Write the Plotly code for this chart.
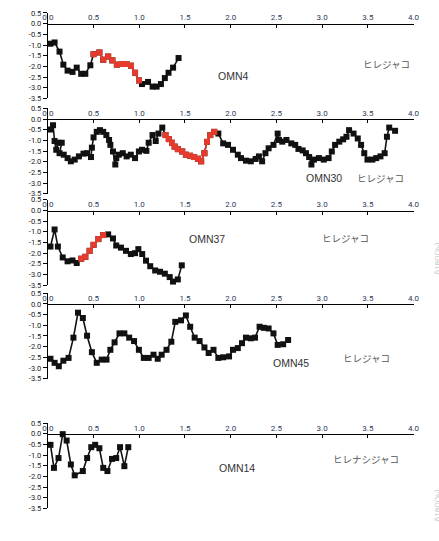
import plotly.graph_objects as go

W, H = 439, 541

# ---- data (x in mm-like distance units, y = isotope value) ----
omn4_x = [0.029, 0.074, 0.128, 0.170, 0.216, 0.270, 0.316, 0.365, 0.410, 0.465,
          0.500, 0.564, 0.606, 0.660, 0.706, 0.755, 0.810, 0.860, 0.910, 0.954, 0.997,
          1.030, 1.096, 1.146, 1.190, 1.237, 1.280, 1.320, 1.370, 1.430]
omn4_y = [-0.94, -0.88, -1.31, -1.92, -2.20, -2.26, -2.06, -2.35, -2.35, -1.95,
          -1.43, -1.35, -1.69, -1.54, -1.72, -1.92, -1.89, -1.89, -1.97, -2.30, -2.66,
          -2.83, -2.73, -2.95, -2.95, -2.83, -2.55, -2.30, -2.06, -1.61]
omn4_red = (10, 21)

omn30_x = [0.029, 0.057, 0.074, 0.092, 0.117, 0.152, 0.128, 0.174, 0.216, 0.252, 0.294, 0.340,
           0.390, 0.430, 0.472, 0.482, 0.500, 0.535, 0.570, 0.606, 0.640, 0.670, 0.684, 0.713,
           0.738, 0.749, 0.777, 0.820, 0.862, 0.908, 0.954, 0.996, 1.030, 1.078, 1.103, 1.145,
           1.180, 1.210, 1.252,
           1.287, 1.323, 1.358, 1.387, 1.422, 1.470, 1.510, 1.556, 1.600, 1.642, 1.677, 1.713,
           1.741, 1.777, 1.820,
           1.865, 1.918, 1.971, 2.025, 2.078, 2.113, 2.167, 2.220, 2.273, 2.309, 2.344, 2.380,
           2.415, 2.468, 2.514, 2.528, 2.564, 2.610, 2.663, 2.706, 2.741, 2.787, 2.823, 2.858,
           2.883, 2.911, 2.965, 3.018, 3.071, 3.106, 3.142, 3.188, 3.230, 3.266, 3.295, 3.344,
           3.390, 3.426, 3.461, 3.496, 3.550, 3.592, 3.638, 3.684, 3.709, 3.734, 3.798]
omn30_y = [-0.49, -0.29, -1.03, -1.44, -1.11, -1.11, -1.60, -1.67, -1.83, -1.98, -1.90, -1.75,
           -1.62, -1.60, -1.78, -1.34, -0.86, -0.60, -0.52, -0.60, -0.75, -0.98, -1.21, -1.52,
           -2.13, -1.83, -1.67, -1.60, -1.75, -1.67, -1.83, -1.52, -1.44, -1.49, -1.11, -0.75,
           -1.03, -0.68, -0.40,
           -0.75, -0.94, -1.11, -1.29, -1.41, -1.52, -1.67, -1.72, -1.78, -1.86, -1.98, -1.60,
           -1.07, -0.75, -0.60,
           -0.68, -1.14, -1.21, -1.44, -1.67, -1.83, -1.95, -1.98, -1.87, -1.75, -1.98, -1.60,
           -1.37, -1.21, -0.68, -0.98, -1.06, -0.98, -1.14, -1.21, -1.40, -1.47, -1.60, -1.78,
           -2.13, -1.90, -1.83, -1.90, -1.83, -1.52, -1.21, -1.06, -0.95, -0.83, -0.52, -0.68,
           -0.91, -1.21, -1.60, -1.90, -1.90, -1.83, -1.75, -1.60, -0.83, -0.40, -0.55]
omn30_red = (39, 54)

omn37_x = [0.029, 0.074, 0.110, 0.163, 0.216, 0.270, 0.316,
           0.365, 0.410, 0.457, 0.500, 0.553, 0.606,
           0.660, 0.713, 0.748, 0.800, 0.855, 0.908, 0.954, 0.990, 1.032, 1.074, 1.120,
           1.174, 1.227, 1.280, 1.333, 1.369, 1.422, 1.465]
omn37_y = [-1.69, -0.89, -1.69, -2.20, -2.38, -2.34, -2.46,
           -2.26, -2.17, -1.89, -1.61, -1.34, -1.15,
           -1.12, -1.31, -1.64, -1.74, -1.89, -2.04, -2.00, -1.81, -2.04, -2.35, -2.61,
           -2.81, -2.87, -2.96, -3.12, -3.33, -3.23, -2.57]
omn37_red = (7, 13)

omn45_x = [0.029, 0.074, 0.120, 0.170, 0.227, 0.280, 0.330, 0.383, 0.429, 0.482, 0.535,
           0.589, 0.642, 0.684, 0.730, 0.784, 0.837, 0.890, 0.943, 0.996, 1.050, 1.103,
           1.156, 1.202, 1.245, 1.298, 1.351, 1.394, 1.457, 1.510, 1.557, 1.606, 1.660,
           1.713, 1.759, 1.812, 1.865, 1.918, 1.982, 2.025, 2.078, 2.124, 2.167, 2.220,
           2.266, 2.316, 2.362, 2.415, 2.468, 2.514, 2.574, 2.628]
omn45_y = [-2.57, -2.76, -2.92, -2.66, -2.53, -1.58, -0.41, -0.66, -1.49, -2.26, -2.76,
           -2.61, -2.61, -2.15, -1.80, -1.38, -1.38, -1.58, -1.74, -2.15, -2.53, -2.53,
           -2.38, -2.57, -2.38, -2.15, -1.77, -0.84, -0.77, -0.54, -1.07, -1.58, -1.74,
           -2.04, -2.30, -2.15, -2.53, -2.50, -2.46, -2.15, -2.07, -1.84, -1.58, -1.61,
           -1.58, -1.07, -1.12, -1.15, -1.38, -1.92, -1.89, -1.69]

omn14_x = [0.029, 0.067, 0.117, 0.163, 0.206, 0.252, 0.294, 0.383, 0.430, 0.475,
           0.518, 0.564, 0.606, 0.652, 0.702, 0.748, 0.790, 0.837, 0.880]
omn14_y = [-0.52, -1.60, -1.14, -0.02, -0.32, -1.44, -1.95, -1.75, -1.14, -0.63,
           -0.52, -0.68, -1.60, -1.75, -1.18, -1.14, -0.63, -1.52, -0.63]

sample_names = ["OMN4", "OMN30", "OMN37", "OMN45", "OMN14"]
species_names = ["ヒレジャコ", "ヒレジャコ", "ヒレジャコ", "ヒレジャコ", "ヒレナシジャコ"]

x_tick_vals = [0.0, 0.5, 1.0, 1.5, 2.0, 2.5, 3.0, 3.5, 4.0]
x_tick_text = ["0.0", "0.5", "1.0", "1.5", "2.0", "2.5", "3.0", "3.5", "4.0"]
y_tick_vals = [0.5, 0.0, -0.5, -1.0, -1.5, -2.0, -2.5, -3.0, -3.5]
y_tick_text = ["0.5", "0.0", "-0.5", "-1.0", "-1.5", "-2.0", "-2.5", "-3.0", "-3.5"]

# ---- layout geometry (pixels) ----
X0, X4 = 43, 419            # pixel of x=0 and x=4
PANEL_ZERO = [20, 117, 210, 305, 437]   # pixel row of y=0 for each panel
PX_PER_UNIT_Y = 21.7

label_pos = [((233, 73), (391, 61)),
             ((326.5, 177), (385, 177)),
             ((206.5, 238.5), (349, 238)),
             ((292.5, 365), (371, 360)),
             ((237.5, 472), (370, 463))]

BLACK = "#111111"
RED = "#e63b2c"

series = [
    (omn4_x, omn4_y, omn4_red),
    (omn30_x, omn30_y, omn30_red),
    (omn37_x, omn37_y, omn37_red),
    (omn45_x, omn45_y, None),
    (omn14_x, omn14_y, None),
]

fig = go.Figure()
layout = dict(
    width=W, height=H, margin=dict(l=0, r=0, t=0, b=0),
    paper_bgcolor="white", plot_bgcolor="white", showlegend=False,
)

def px_x(p):
    return p / W

def px_y(p):
    return (H - p) / H

annotations = []
for i, (xs, ys, red) in enumerate(series):
    n = i + 1
    xa = "x" if n == 1 else f"x{n}"
    ya = "y" if n == 1 else f"y{n}"
    P = PANEL_ZERO[i]
    top_px = P - 0.5 * PX_PER_UNIT_Y
    bot_px = P + 3.5 * PX_PER_UNIT_Y

    fig.add_trace(go.Scatter(
        x=xs, y=ys, xaxis=xa, yaxis=ya, mode="lines+markers",
        line=dict(color=BLACK, width=1.6),
        marker=dict(symbol="square", size=6, color=BLACK),
        cliponaxis=False, hoverinfo="skip"))
    if red is not None:
        a, b = red
        fig.add_trace(go.Scatter(
            x=xs[a:b], y=ys[a:b], xaxis=xa, yaxis=ya, mode="lines+markers",
            line=dict(color=RED, width=1.6),
            marker=dict(symbol="square", size=6, color=RED),
            cliponaxis=False, hoverinfo="skip"))

    xkey = "xaxis" if n == 1 else f"xaxis{n}"
    ykey = "yaxis" if n == 1 else f"yaxis{n}"
    layout[xkey] = dict(
        domain=[px_x(X0), px_x(X4)], range=[0, 4], anchor="free",
        position=px_y(P), side="top",
        showline=True, linecolor="black", linewidth=1,
        ticks="inside", ticklen=3, tickwidth=1, tickcolor="black",
        tickvals=x_tick_vals, ticktext=x_tick_text,
        tickfont=dict(family="Liberation Sans Narrow, Roboto, sans-serif", size=8, color="#2e3a58"),
        showgrid=False, zeroline=False, fixedrange=True,
    )
    layout[ykey] = dict(
        domain=[px_y(bot_px), px_y(top_px)], range=[-3.5, 0.5], anchor=xa,
        showline=True, linecolor="black", linewidth=1,
        ticks="outside", ticklen=4, tickwidth=1, tickcolor="black",
        tickvals=y_tick_vals, ticktext=y_tick_text,
        tickfont=dict(family="Liberation Sans Narrow, Roboto, sans-serif", size=7.5, color="#222222"),
        showgrid=False, zeroline=False, fixedrange=True,
    )

    (sx, sy), (jx, jy) = label_pos[i]
    annotations.append(dict(
        x=px_x(sx), y=px_y(sy), xref="paper", yref="paper", text=sample_names[i],
        showarrow=False, xanchor="center", yanchor="middle",
        font=dict(family="Liberation Sans, Arial, sans-serif", size=10.5, color="#333333")))
    annotations.append(dict(
        x=px_x(jx), y=px_y(jy), xref="paper", yref="paper", text=species_names[i],
        showarrow=False, xanchor="center", yanchor="middle",
        font=dict(family="Noto Sans CJK JP, sans-serif", size=9.5, color="#555555")))

for yc in (259, 510):
    annotations.append(dict(
        x=px_x(444), y=px_y(yc), xref="paper", yref="paper", text="δ18O(‰)",
        showarrow=False, textangle=-90, xanchor="center", yanchor="middle",
        font=dict(family="Roboto, sans-serif", size=8, color="#c8c8c8")))

layout["annotations"] = annotations
fig.update_layout(**layout)
fig.write_html("out.html")
